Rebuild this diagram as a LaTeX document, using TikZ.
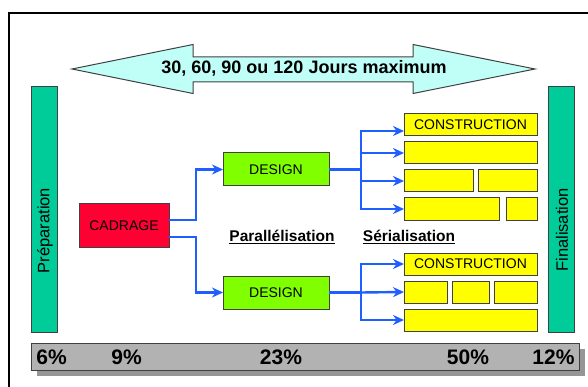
\documentclass[tikz,border=0pt]{standalone}
\usepackage{fontspec}
\setmainfont{Liberation Sans}
\usetikzlibrary{arrows.meta}
\usetikzlibrary{positioning,shapes,shadows}
\usepackage{xcolor}

\definecolor{phasegreen}{HTML}{00CC99}
\definecolor{spancyan}{HTML}{C0FFF8}
\definecolor{cadred}{HTML}{FF0033}
\definecolor{desgreen}{HTML}{80FF00}
\definecolor{conyellow}{HTML}{FFFF00}
\definecolor{linkblue}{HTML}{1F5FFF}
\definecolor{bargray}{HTML}{B2B2B2}
\definecolor{shadowgray}{HTML}{969696}

\begin{document}
\begin{tikzpicture}[%
        x=1pt, y=-1pt,
        every node/.style={rectangle, inner sep=0pt, outer sep=0pt, font=\fontsize{14}{16}\selectfont},
        box/.style={draw=black!75, line width=1pt},
        phase/.style={box, fill=phasegreen, minimum width=26pt, minimum height=245pt},
        phaselbl/.style={rotate=90, font=\fontsize{16.5}{18}\selectfont},
        task/.style={box, minimum width=106pt, minimum height=33pt, fill=desgreen},
        conbox/.style={box, fill=conyellow, minimum height=22pt},
        pct/.style={font=\fontsize{21}{24}\selectfont\bfseries},
        mode/.style={font=\fontsize{15.5}{18}\selectfont\bfseries},
        wire/.style={draw=linkblue, line width=2.4pt},
        branch/.style={->, to path={|- (\tikztotarget)}},
        >={Stealth[length=11pt, width=10pt]},
        node distance=6pt
      ]
      \useasboundingbox (0,0) rectangle (588,387);
      \clip (0,0) rectangle (588,387);
      \draw [line width=2pt] (9,13) rectangle (620,420);

      % duration arrow
      \draw [fill=spancyan, draw=black!75, line width=1pt]
        (72,69) -- (193,44.5) -- (193,57) -- (413,57) -- (413,44.5) -- (535,69)
        -- (413,93.5) -- (413,82) -- (193,82) -- (193,93.5) -- cycle;
      \node (span) at (304,68.5) [font=\fontsize{18}{20}\selectfont\bfseries] {30, 60, 90 ou 120 Jours maximum};

      % phases
      \node [phase] (prep) at (44,209.5) {};
      \node [phaselbl] (preplbl) at (45,230.5) {Préparation};
      \node [phase] (fin) at (561,209.5) {};
      \node [phaselbl] (finlbl) at (562,230) {Finalisation};

      \node [box] (cad) at (124,225.5) [fill=cadred, minimum width=90pt, minimum height=43pt] {CADRAGE};
      \node [task] (des1) at (276,169.5) {DESIGN};
      \node [task] (des2) at (276,292.5) {DESIGN};

      % constructions, top
      \node [conbox] (ct1) at (404,114) [anchor=north west, minimum width=133pt] {CONSTRUCTION};
      \node [conbox] (ct2) [minimum width=133pt, below=of ct1] {};
      \node [conbox] (ct3a) [minimum width=69pt, below right=6pt and 0pt of ct2.south west] {};
      \node [conbox] (ct3b) [minimum width=59pt, right=5pt of ct3a] {};
      \node [conbox] (ct4a) [minimum width=95pt, below right=6pt and 0pt of ct3a.south west] {};
      \node [conbox] (ct4b) [minimum width=31pt, right=7pt of ct4a] {};

      % constructions, bottom
      \node [conbox] (cb1) at (404,253) [anchor=north west, minimum width=133pt] {CONSTRUCTION};
      \node [conbox] (cb2a) [minimum width=43pt, below right=6pt and 0pt of cb1.south west] {};
      \node [conbox] (cb2b) [minimum width=37pt, right=5pt of cb2a] {};
      \node [conbox] (cb2c) [minimum width=43pt, right=5pt of cb2b] {};
      \node [conbox] (cb3) [minimum width=133pt, below right=6pt and 0pt of cb2a.south west] {};

      \node [mode] (para) at (282,237) {\underline{Parallélisation}};
      \node [mode] (seri) at (409,237) {\underline{Sérialisation}};

      % links
      \draw [wire, ->] ([yshift=5.5pt]cad.east) -- ++(27,0) |- (des1.west);
      \draw [wire, ->] ([yshift=-11.5pt]cad.east) -- ++(27,0) |- (des2.west);
      \draw [wire] (des1.east) -- ++(32,0) coordinate (fork1);
      \draw [wire] (des2.east) -- ++(32,0) coordinate (fork2);
      \path [wire] (fork1) edge[branch] ([yshift=-6pt]ct1.west)
      (fork1) edge[branch] (ct2.west)
      (fork1) edge[branch] (ct3a.west)
      (fork1) edge[branch] (ct4a.west);
      \path [wire] (fork2) edge[branch] (cb1.west)
      (fork2) edge[->] (cb2a.west)
      (fork2) edge[branch] (cb3.west);

      % effort bar
      \node [box] (bar) at (305,356.5) [fill=bargray, minimum width=548pt, minimum height=27pt,
        drop shadow={shadow xshift=6pt, shadow yshift=-6pt, fill=shadowgray, opacity=1}] {};
      \node [pct] (p6) at (51.5,357) {6\%};
      \node [pct] (p9) at (126.5,357) {9\%};
      \node [pct] (p23) at (281,357) {23\%};
      \node [pct] (p50) at (468,357) {50\%};
      \node [pct] (p12) at (553.5,357) {12\%};
    \end{tikzpicture}
\end{document}
